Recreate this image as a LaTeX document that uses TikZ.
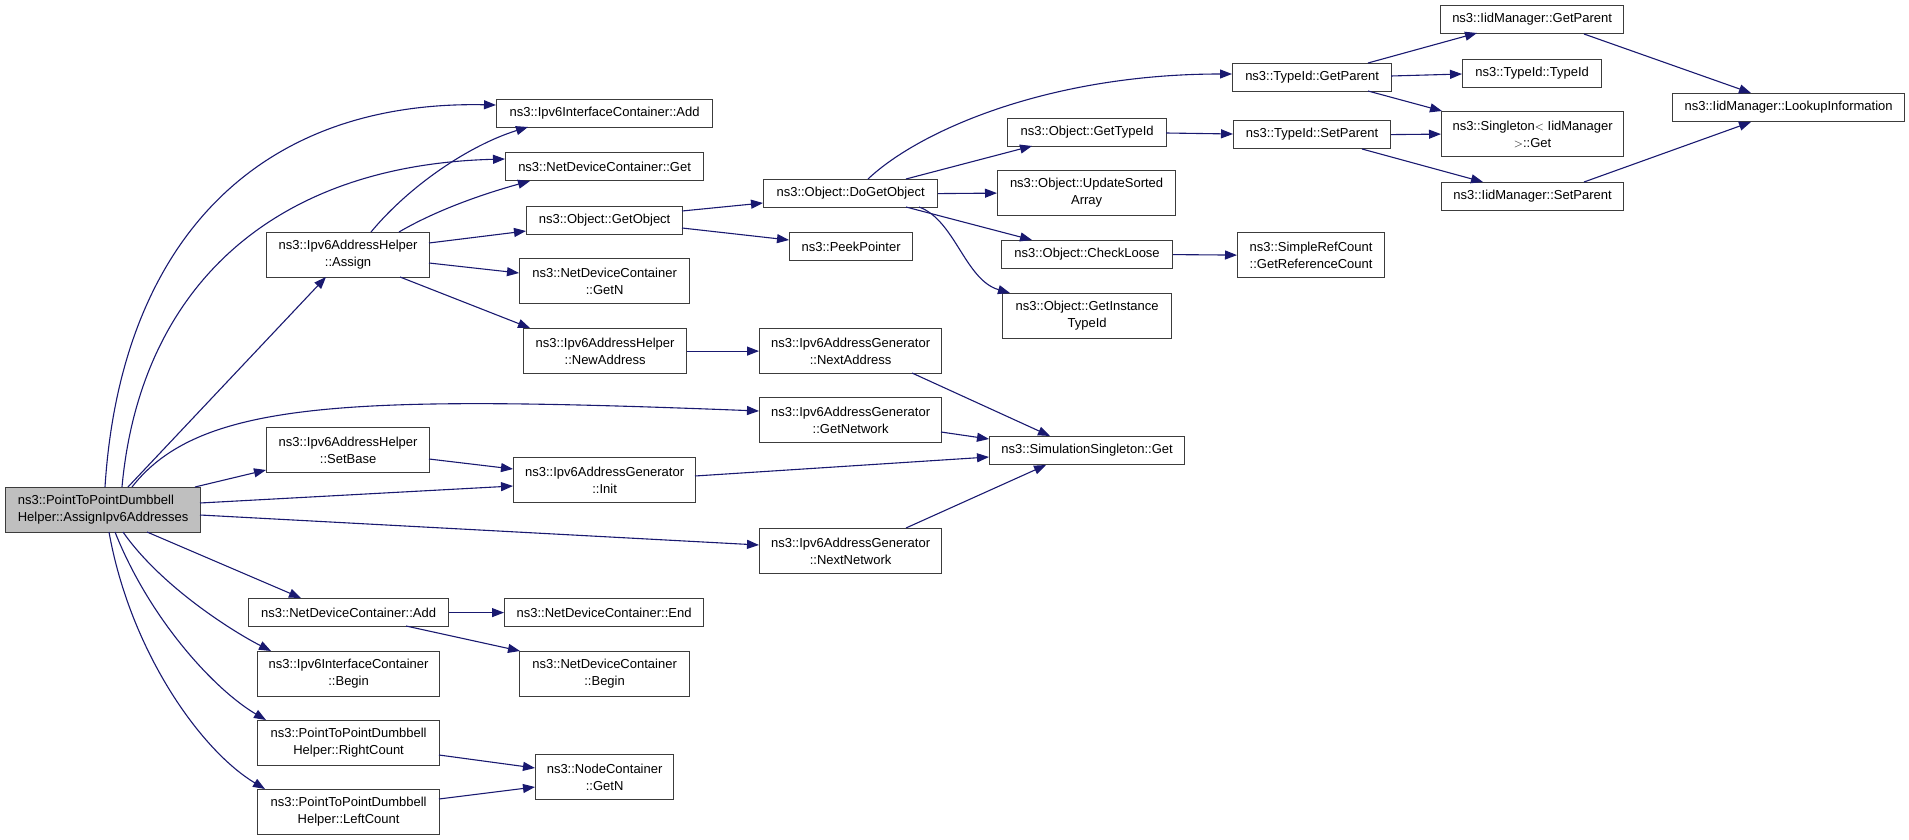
\documentclass[tikz,border=0pt]{standalone}
\usepackage{fontspec}
\setmainfont{Liberation Sans}
\usetikzlibrary{arrows.meta,calc}
\definecolor{edgeblue}{RGB}{25,25,112}
\definecolor{boxline}{RGB}{60,60,60}
\definecolor{rootfill}{RGB}{191,191,191}
\begin{document}
\begin{tikzpicture}[x=1pt,y=-1pt,
  box/.style={draw=boxline, line width=1.2pt, inner sep=0pt, anchor=north west, align=center,
    font=\fontsize{13pt}{17pt}\selectfont},
  one/.style={box, minimum height=28pt},
  two/.style={box, minimum height=45pt},
  e/.style={draw=edgeblue, line width=1.1pt, -{Triangle[length=12pt,width=9pt]}}]
\useasboundingbox (0,0) rectangle (1909,840);
% column 1
\node[two, fill=rootfill, align=left, minimum width=195pt] (m) at (5,487) {ns3::PointToPointDumbbell\\Helper::AssignIpv6Addresses};
% column 2
\node[two, minimum width=163pt] (assign) at (266,232) {ns3::Ipv6AddressHelper\\::Assign};
\node[two, minimum width=163pt] (setbase) at (266,427) {ns3::Ipv6AddressHelper\\::SetBase};
\node[one, minimum width=200pt] (ndcadd) at (248,598) {ns3::NetDeviceContainer::Add};
\node[two, minimum width=182pt] (icbegin) at (257,651) {ns3::Ipv6InterfaceContainer\\::Begin};
\node[two, minimum width=182pt] (rightc) at (257,720) {ns3::PointToPointDumbbell\\Helper::RightCount};
\node[two, minimum width=182pt] (leftc) at (257,789) {ns3::PointToPointDumbbell\\Helper::LeftCount};
% column 3
\node[one, minimum width=216pt] (icadd) at (496,99) {ns3::Ipv6InterfaceContainer::Add};
\node[one, minimum width=198pt] (ndcget) at (505,152) {ns3::NetDeviceContainer::Get};
\node[one, minimum width=156pt] (getobj) at (526,206) {ns3::Object::GetObject};
\node[two, minimum width=170pt] (ndcgetn) at (519,258) {ns3::NetDeviceContainer\\::GetN};
\node[two, minimum width=163pt] (newaddr) at (523,328) {ns3::Ipv6AddressHelper\\::NewAddress};
\node[two, minimum width=182pt] (init) at (513,457) {ns3::Ipv6AddressGenerator\\::Init};
\node[one, minimum width=199pt] (ndcend) at (504,598) {ns3::NetDeviceContainer::End};
\node[two, minimum width=170pt] (ndcbegin) at (519,651) {ns3::NetDeviceContainer\\::Begin};
\node[two, minimum width=138pt] (nodegetn) at (535,754) {ns3::NodeContainer\\::GetN};
% column 4
\node[one, minimum width=174pt] (dogetobj) at (763,179) {ns3::Object::DoGetObject};
\node[one, minimum width=123pt] (peek) at (789,232) {ns3::PeekPointer};
\node[two, minimum width=182pt] (nextaddr) at (759,328) {ns3::Ipv6AddressGenerator\\::NextAddress};
\node[two, minimum width=182pt] (getnet) at (759,397) {ns3::Ipv6AddressGenerator\\::GetNetwork};
\node[two, minimum width=182pt] (nextnet) at (759,528) {ns3::Ipv6AddressGenerator\\::NextNetwork};
% column 5
\node[one, minimum width=159pt] (gettid) at (1007,118) {ns3::Object::GetTypeId};
\node[two, minimum width=178pt] (usa) at (997,170) {ns3::Object::UpdateSorted\\Array};
\node[one, minimum width=171pt] (checkl) at (1001,240) {ns3::Object::CheckLoose};
\node[two, minimum width=169pt] (gitid) at (1002,293) {ns3::Object::GetInstance\\TypeId};
\node[one, minimum width=195pt] (simget) at (989,436) {ns3::SimulationSingleton::Get};
% column 6
\node[one, minimum width=159pt] (tgetp) at (1232,63) {ns3::TypeId::GetParent};
\node[one, minimum width=157pt] (tsetp) at (1233,120) {ns3::TypeId::SetParent};
\node[two, minimum width=147pt] (src) at (1237,232) {ns3::SimpleRefCount\\::GetReferenceCount};
% column 7
\node[one, minimum width=183pt] (igetp) at (1440,5) {ns3::IidManager::GetParent};
\node[one, minimum width=139pt] (ttid) at (1462,59) {ns3::TypeId::TypeId};
\node[two, minimum width=182pt] (sget) at (1441,111) {ns3::Singleton$<$ IidManager\\$>$::Get};
\node[one, minimum width=182pt] (isetp) at (1441,182) {ns3::IidManager::SetParent};
% column 8
\node[one, minimum width=232pt] (lookup) at (1672,93) {ns3::IidManager::LookupInformation};

% edges from root
\draw[e] ($(m.north west)+(100,0)$) .. controls (120,250) and (250,100) .. ($(icadd.north west)+(0,6)$);
\draw[e] ($(m.north west)+(117,0)$) .. controls (140,290) and (270,165) .. ($(ndcget.north west)+(0,7)$);
\draw[e] ($(m.north west)+(123,0)$) -- ($(assign.north west)+(60,45)$);
\draw[e] ($(m.north west)+(127,0)$) .. controls (200,400) and (350,395) .. ($(getnet.north west)+(0,14)$);
\draw[e] ($(m.north west)+(190,0)$) -- ($(setbase.north west)+(0,43)$);
\draw[e] ($(m.north west)+(195,16)$) -- ($(init.north west)+(0,29)$);
\draw[e] ($(m.north west)+(195,28)$) -- ($(nextnet.north west)+(0,17)$);
\draw[e] ($(m.north west)+(142,45)$) -- ($(ndcadd.north west)+(53,0)$);
\draw[e] ($(m.north west)+(118,45)$) .. controls (160,585) and (230,630) .. ($(icbegin.north west)+(14,0)$);
\draw[e] ($(m.north west)+(110,45)$) .. controls (150,620) and (215,690) .. ($(rightc.north west)+(9,0)$);
\draw[e] ($(m.north west)+(104,45)$) .. controls (130,650) and (200,750) .. ($(leftc.north west)+(8,0)$);
% edges from Assign
\draw[e] ($(assign.north west)+(105,0)$) .. controls (410,185) and (470,145) .. ($(icadd.north west)+(32,28)$);
\draw[e] ($(assign.north west)+(133,0)$) .. controls (440,208) and (490,192) .. ($(ndcget.north west)+(25,29)$);
\draw[e] ($(assign.north west)+(163,11)$) -- ($(getobj.north west)+(0,25)$);
\draw[e] ($(assign.north west)+(163,31)$) -- ($(ndcgetn.north west)+(0,15)$);
\draw[e] ($(assign.north west)+(134,45)$) -- ($(newaddr.north west)+(7,0)$);
% other edges, columns 2-3
\draw[e] ($(setbase.north west)+(163,32)$) -- ($(init.north west)+(0,12)$);
\draw[e] (ndcadd.east) -- (ndcend.west);
\draw[e] ($(ndcadd.north west)+(158,28)$) -- ($(ndcbegin.north west)+(1,0)$);
\draw[e] ($(rightc.north west)+(182,35)$) -- ($(nodegetn.north west)+(0,14)$);
\draw[e] ($(leftc.north west)+(182,10)$) -- ($(nodegetn.north west)+(0,33)$);
% columns 3-4
\draw[e] ($(getobj.north west)+(156,5)$) -- ($(dogetobj.north west)+(0,24)$);
\draw[e] ($(getobj.north west)+(156,22)$) -- ($(peek.north west)+(0,8)$);
\draw[e] (newaddr.east) -- (nextaddr.west);
\draw[e] ($(nextaddr.north west)+(153,45)$) -- ($(simget.north west)+(61,0)$);
\draw[e] ($(getnet.north west)+(182,35)$) -- ($(simget.north west)+(0,3)$);
\draw[e] ($(init.north west)+(182,19)$) -- ($(simget.north west)+(0,21)$);
\draw[e] ($(nextnet.north west)+(147,0)$) -- ($(simget.north west)+(57,29)$);
% from DoGetObject
\draw[e] ($(dogetobj.north west)+(105,0)$) .. controls (920,130) and (1050,74) .. ($(tgetp.north west)+(0,11)$);
\draw[e] ($(dogetobj.north west)+(143,0)$) -- ($(gettid.north west)+(25,28)$);
\draw[e] (dogetobj.east) -- (usa.west);
\draw[e] ($(dogetobj.north west)+(143,28)$) -- ($(checkl.north west)+(31,0)$);
\draw[e] ($(dogetobj.north west)+(156,28)$) .. controls (955,220) and (965,280) .. ($(gitid.north west)+(8,0)$);
% columns 5-6
\draw[e] ($(gettid.north west)+(159,15)$) -- ($(tsetp.north west)+(0,14)$);
\draw[e] (checkl.east) -- (src.west);
% columns 6-7
\draw[e] ($(tgetp.north west)+(136,0)$) -- ($(igetp.north west)+(37,28)$);
\draw[e] ($(tgetp.north west)+(159,13)$) -- ($(ttid.north west)+(0,15)$);
\draw[e] ($(tgetp.north west)+(136,28)$) -- ($(sget.north west)+(1,0)$);
\draw[e] (tsetp.east) -- (sget.west);
\draw[e] ($(tsetp.north west)+(129,29)$) -- ($(isetp.north west)+(42,0)$);
% to LookupInformation
\draw[e] ($(igetp.north west)+(144,29)$) -- ($(lookup.north west)+(79,0)$);
\draw[e] ($(isetp.north west)+(143,0)$) -- ($(lookup.north west)+(79,29)$);
\end{tikzpicture}
\end{document}
